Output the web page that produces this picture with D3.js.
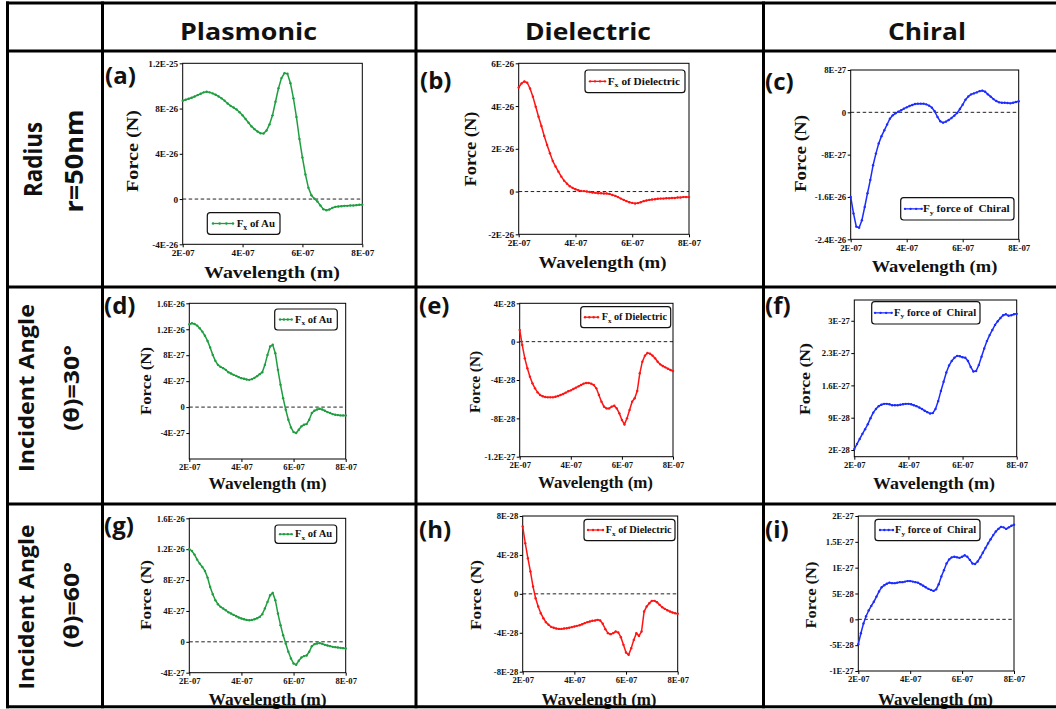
<!DOCTYPE html>
<html>
<head>
<meta charset="utf-8">
<script src="https://cdn.jsdelivr.net/npm/d3@7"></script>
<style>
  html, body { margin: 0; padding: 0; background: #fff; }
  svg { display: block; }
</style>
</head>
<body>
<script>
// ---------------- DATA ----------------
const wavelengthNm = [200,210,220,230,240,250,260,270,280,290,300,310,320,330,340,350,360,370,380,390,
  400,410,420,430,440,450,460,470,480,490,500,510,520,530,540,550,560,570,580,590,
  600,610,620,630,640,650,660,670,680,690,700,710,720,730,740,750,760,770,780,790,800];

const columnTitles = ["Plasmonic", "Dielectric", "Chiral"];
const rowTitlesTop = ["Radius", "Incident Angle", "Incident Angle"];
const rowTitlesBottom = ["r=50nm", "(\u03B8)=30\u00B0", "(\u03B8)=60\u00B0"];
const panelLetters = ["(a)","(b)","(c)","(d)","(e)","(f)","(g)","(h)","(i)"];

// (a) Fx of Au, radius r=50nm  [units of 1e-26 N]
const fxAuRadius = [8.69,8.78,8.87,8.96,9.07,9.19,9.31,9.43,9.49,9.43,
  9.34,9.22,9.07,8.9,8.69,8.45,8.24,8.09,7.91,7.67,
  7.4,7.07,6.75,6.42,6.18,5.97,5.82,5.79,6.06,6.6,
  7.4,8.6,9.79,10.69,11.13,11.07,10.24,8.9,7.25,5.31,
  3.67,2.18,0.99,0.33,0.03,-0.21,-0.57,-0.9,-0.99,-0.93,
  -0.78,-0.69,-0.66,-0.63,-0.6,-0.6,-0.57,-0.57,-0.54,-0.51,-0.51];
// (b) Fx of Dielectric, radius [1e-26 N]
const fxDielRadius = [4.87,5.06,5.15,5.09,4.82,4.44,3.97,3.5,3.07,2.6,
  2.18,1.79,1.43,1.17,0.93,0.7,0.51,0.37,0.25,0.17,
  0.11,0.06,0.03,0.02,0,-0.02,-0.05,-0.06,-0.08,-0.08,
  -0.09,-0.09,-0.11,-0.16,-0.2,-0.26,-0.33,-0.39,-0.45,-0.5,
  -0.53,-0.56,-0.54,-0.5,-0.45,-0.42,-0.39,-0.37,-0.36,-0.34,
  -0.33,-0.33,-0.31,-0.31,-0.3,-0.3,-0.28,-0.28,-0.26,-0.26,-0.26];
// (c) Fy force of Chiral, radius [1e-27 N]
const fyChiralRadius = [-16.0,-19.1,-21.6,-21.8,-20.4,-17.9,-15.3,-12.8,-10.0,-7.8,
  -5.9,-4.5,-3.4,-2.3,-1.2,-0.57,-0.19,0.13,0.38,0.69,
  0.94,1.19,1.38,1.57,1.64,1.64,1.64,1.51,1.26,0.88,
  0.19,-0.88,-1.7,-1.95,-1.76,-1.45,-1.07,-0.63,-0.13,0.63,
  1.45,2.39,3.0,3.4,3.58,3.77,4.0,4.1,3.9,3.4,
  2.96,2.5,2.14,1.89,1.82,1.82,1.76,1.7,1.82,1.95,2.08];
// (d) Fx of Au, angle 30 [1e-27 N]
const fxAuAngle30 = [12.77,12.92,12.82,12.56,12.15,11.64,11.0,10.2,9.18,8.05,
  7.13,6.51,6.2,6.0,5.74,5.38,5.18,4.97,4.82,4.62,
  4.46,4.36,4.26,4.2,4.31,4.51,4.77,5.08,5.38,6.51,
  8.05,9.33,9.6,8.3,5.74,3.44,1.38,-0.41,-1.95,-3.13,
  -3.85,-4.0,-3.49,-2.97,-2.72,-2.62,-1.95,-0.92,-0.56,-0.36,
  -0.26,-0.36,-0.56,-0.77,-0.92,-1.08,-1.18,-1.23,-1.28,-1.28,-1.28];
// (e) Fx of Dielectric, angle 30 [1e-28 N]
const fxDielAngle30 = [1.22,-0.35,-1.74,-2.78,-3.65,-4.35,-4.87,-5.29,-5.57,-5.7,
  -5.77,-5.81,-5.81,-5.81,-5.74,-5.67,-5.57,-5.46,-5.32,-5.18,
  -5.08,-4.94,-4.8,-4.66,-4.52,-4.38,-4.31,-4.31,-4.38,-4.52,
  -4.87,-5.57,-6.26,-6.78,-6.96,-6.96,-6.78,-6.68,-6.96,-7.48,
  -8.17,-8.63,-8.0,-7.13,-6.26,-5.91,-5.15,-3.3,-2.09,-1.46,
  -1.18,-1.25,-1.46,-1.74,-2.09,-2.37,-2.54,-2.68,-2.82,-2.96,-3.06];
// (f) Fy force of Chiral, angle 30 [1e-27 N]
const fyChiralAngle30 = [0.22,0.33,0.44,0.55,0.65,0.76,0.89,1.01,1.09,1.15,
  1.18,1.2,1.2,1.19,1.17,1.17,1.17,1.18,1.19,1.2,
  1.2,1.19,1.17,1.15,1.12,1.09,1.05,1.02,0.99,1.0,
  1.09,1.26,1.48,1.68,1.88,2.03,2.13,2.2,2.24,2.23,
  2.21,2.2,2.13,2.0,1.9,1.91,2.04,2.22,2.4,2.56,
  2.69,2.8,2.91,2.99,3.06,3.12,3.14,3.11,3.12,3.14,3.15];
// (g) Fx of Au, angle 60 [1e-27 N]
const fxAuAngle60 = [12.0,11.77,11.3,10.65,10.13,9.7,9.18,8.32,7.11,6.16,
  5.39,4.87,4.53,4.31,4.09,3.84,3.66,3.49,3.32,3.15,
  3.02,2.93,2.84,2.8,2.84,2.93,3.06,3.23,3.58,4.31,
  5.17,6.03,6.34,5.39,3.66,2.16,0.86,-0.22,-1.29,-2.16,
  -2.8,-2.97,-2.46,-2.03,-1.85,-1.77,-1.29,-0.56,-0.3,-0.22,
  -0.17,-0.26,-0.39,-0.47,-0.56,-0.65,-0.69,-0.73,-0.78,-0.82,-0.86];
// (h) Fx of Dielectric, angle 60 [1e-28 N]
const fxDielAngle60 = [6.92,5.2,3.66,2.29,0.75,-0.45,-1.3,-1.99,-2.5,-2.91,
  -3.18,-3.39,-3.49,-3.56,-3.6,-3.6,-3.56,-3.53,-3.49,-3.42,
  -3.36,-3.29,-3.22,-3.12,-3.01,-2.91,-2.84,-2.77,-2.74,-2.67,
  -2.74,-3.08,-3.63,-4.04,-4.14,-4.04,-3.87,-3.97,-4.45,-5.24,
  -6.03,-6.27,-5.58,-4.73,-4.04,-4.32,-3.87,-1.82,-1.3,-0.96,
  -0.72,-0.72,-0.86,-1.13,-1.37,-1.54,-1.68,-1.82,-1.92,-1.99,-2.05];
// (i) Fy force of Chiral, angle 60 [1e-27 N]
const fyChiralAngle60 = [-0.48,-0.27,-0.08,0.06,0.17,0.26,0.34,0.44,0.54,0.62,
  0.66,0.69,0.71,0.7,0.7,0.71,0.72,0.72,0.73,0.74,
  0.74,0.73,0.72,0.71,0.68,0.65,0.62,0.59,0.57,0.55,
  0.58,0.68,0.83,0.95,1.08,1.16,1.2,1.21,1.2,1.19,
  1.21,1.24,1.21,1.15,1.08,1.07,1.12,1.2,1.29,1.38,
  1.47,1.55,1.63,1.7,1.75,1.79,1.78,1.75,1.78,1.81,1.83];

const seriesUnits = [1e-26, 1e-26, 1e-27, 1e-27, 1e-28, 1e-27, 1e-27, 1e-28, 1e-27];

// tick values & labels
const xTickValues = [2e-7, 4e-7, 6e-7, 8e-7];
const xTickLabels = ["2E-07", "4E-07", "6E-07", "8E-07"];
const xDomain = [2e-7, 8e-7];

const yDomainA = [-4e-26, 1.2e-25];
const yTicksA = [-4e-26, 0, 4e-26, 8e-26, 1.2e-25];
const yLabelsA = ["-4E-26", "0", "4E-26", "8E-26", "1.2E-25"];
const yDomainB = [-2e-26, 6e-26];
const yTicksB = [-2e-26, 0, 2e-26, 4e-26, 6e-26];
const yLabelsB = ["-2E-26", "0", "2E-26", "4E-26", "6E-26"];
const yDomainC = [-2.4e-26, 8e-27];
const yTicksC = [-2.4e-26, -1.6e-26, -8e-27, 0, 8e-27];
const yLabelsC = ["-2.4E-26", "-1.6E-26", "-8E-27", "0", "8E-27"];
const yDomainD = [-8e-27, 1.6e-26];
const yTicksD = [-4e-27, 0, 4e-27, 8e-27, 1.2e-26, 1.6e-26];
const yLabelsD = ["-4E-27", "0", "4E-27", "8E-27", "1.2E-26", "1.6E-26"];
const yDomainE = [-1.2e-27, 4e-28];
const yTicksE = [-1.2e-27, -8e-28, -4e-28, 0, 4e-28];
const yLabelsE = ["-1.2E-27", "-8E-28", "-4E-28", "0", "4E-28"];
const yDomainF = [0.055e-27, 3.45e-27];
const yTicksF = [2e-28, 9e-28, 1.6e-27, 2.3e-27, 3e-27];
const yLabelsF = ["2E-28", "9E-28", "1.6E-27", "2.3E-27", "3E-27"];
const yDomainG = [-4e-27, 1.6e-26];
const yTicksG = [-4e-27, 0, 4e-27, 8e-27, 1.2e-26, 1.6e-26];
const yLabelsG = ["-4E-27", "0", "4E-27", "8E-27", "1.2E-26", "1.6E-26"];
const yDomainH = [-8e-28, 8e-28];
const yTicksH = [-8e-28, -4e-28, 0, 4e-28, 8e-28];
const yLabelsH = ["-8E-28", "-4E-28", "0", "4E-28", "8E-28"];
const yDomainI = [-1e-27, 2e-27];
const yTicksI = [-1e-27, -5e-28, 0, 5e-28, 1e-27, 1.5e-27, 2e-27];
const yLabelsI = ["-1E-27", "-5E-28", "0", "5E-28", "1E-27", "1.5E-27", "2E-27"];

const legendSub = ["x", "x", "y", "x", "x", "y", "x", "x", "y"];
const legendRest = [" of Au", " of Dielectric", " force of\u00A0 Chiral", " of Au", " of Dielectric",
  " force of\u00A0 Chiral", " of Au", " of Dielectric", " force of\u00A0 Chiral"];

// ---------------- STYLE / LAYOUT ----------------
const GREEN = "#1f9e40", RED = "#ff1414", BLUE = "#1c2cff";
const serif = "'Liberation Serif','Times New Roman',serif";
const sans = "'Open Sans','Noto Sans',sans-serif";

const panels = [
  { values: fxAuRadius, color: GREEN, yd: yDomainA, yt: yTicksA, yl: yLabelsA,
    rect: [182.7, 362.3, 63.3, 244.3], tick: 9.2,
    letter: [105, 84], force: [137.5, 151, 17, 82], wl: [272, 277.5, 17.5, 136],
    leg: [207.3, 280, 212.7, 234.3, 213, 233, 236.7, 275, 11] },
  { values: fxDielRadius, color: RED, yd: yDomainB, yt: yTicksB, yl: yLabelsB,
    rect: [518.7, 689, 63.3, 234.3], tick: 9.2,
    letter: [420, 89], force: [475.5, 149, 16, 75], wl: [602.5, 268, 17, 128],
    leg: [585, 685, 70, 92.7, 590, 605, 607.7, 680.7, 10] },
  { values: fyChiralRadius, color: BLUE, yd: yDomainC, yt: yTicksC, yl: yLabelsC,
    rect: [850.7, 1018.7, 70, 239.3], tick: 8.8,
    letter: [765, 90], force: [805.5, 153.5, 16, 77], wl: [934.5, 271.5, 17, 125.6],
    leg: [900.7, 1014, 197.7, 220, 905, 921.7, 923, 1010, 10] },
  { values: fxAuAngle30, color: GREEN, yd: yDomainD, yt: yTicksD, yl: yLabelsD,
    rect: [189.3, 345.7, 303.3, 459], tick: 8.6,
    letter: [104, 314], force: [150.5, 381, 15, 68], wl: [267.5, 489, 16, 118],
    leg: [274.7, 337.3, 309, 330, 280, 291.7, 295, 333, 9.5] },
  { values: fxDielAngle30, color: RED, yd: yDomainE, yt: yTicksE, yl: yLabelsE,
    rect: [519.7, 673, 303.3, 456.7], tick: 8.6,
    letter: [419, 314], force: [479.5, 382, 15, 62], wl: [595.5, 488.3, 16, 115],
    leg: [580.7, 670.7, 306.7, 327.7, 585, 598, 601.7, 667, 9.5] },
  { values: fyChiralAngle30, color: BLUE, yd: yDomainF, yt: yTicksF, yl: yLabelsF,
    rect: [854.3, 1016.7, 300, 456.7], tick: 8.6,
    letter: [765, 314], force: [809.5, 379, 15, 72], wl: [934, 489, 16, 122],
    leg: [871.7, 980, 301.7, 324, 875, 891.7, 894, 976.7, 9.5] },
  { values: fxAuAngle60, color: GREEN, yd: yDomainG, yt: yTicksG, yl: yLabelsG,
    rect: [189.3, 345.7, 518.3, 672.7], tick: 8.6,
    letter: [104, 534], force: [150.5, 595, 15, 70], wl: [267.5, 705, 16, 118],
    leg: [275, 336.7, 525, 543.3, 280, 291.7, 295, 333, 9.5] },
  { values: fxDielAngle60, color: RED, yd: yDomainH, yt: yTicksH, yl: yLabelsH,
    rect: [522.7, 677.7, 516, 671.7], tick: 8.6,
    letter: [419, 538], force: [480.5, 595, 15, 70], wl: [599, 705, 16, 115],
    leg: [584, 675, 519.3, 540.7, 588, 603, 605.7, 671.7, 9.5] },
  { values: fyChiralAngle60, color: BLUE, yd: yDomainI, yt: yTicksI, yl: yLabelsI,
    rect: [858.3, 1014, 516, 671], tick: 8.6,
    letter: [765, 538], force: [815.5, 595, 15, 67], wl: [935.5, 705, 16, 115],
    leg: [875, 980, 519.3, 540.7, 880, 893, 895, 976.7, 9.5] }
];

const W = 1056, H = 709;
const svg = d3.select("body").append("svg").attr("width", W).attr("height", H);
svg.append("rect").attr("width", W).attr("height", H).attr("fill", "#fff");

function fitGroup(g, x, y, targetW, anchor) {
  const bb = g.node().getBBox();
  const s = targetW / bb.width;
  const tx = anchor === "middle" ? x - (bb.x + bb.width / 2) * s : x - bb.x * s;
  g.attr("transform", `translate(${tx},${y}) scale(${s},1)`);
}

panels.forEach((p, i) => {
  const [l, r, t, b] = p.rect;
  const x = d3.scaleLinear().domain(xDomain).range([l, r]);
  const y = d3.scaleLinear().domain(p.yd).range([b, t]);
  const pts = wavelengthNm.map((w, k) => ({ x: w * 1e-9, y: p.values[k] * seriesUnits[i] }));
  const g = svg.append("g");

  // zero dashed line
  if (p.yd[0] < 0 && p.yd[1] > 0) {
    g.append("line").attr("x1", l).attr("x2", r).attr("y1", y(0)).attr("y2", y(0))
      .attr("stroke", "#222").attr("stroke-width", 1).attr("stroke-dasharray", "3.5,2.5");
  }

  // axes
  const xa = g.append("g").attr("transform", `translate(0,${b})`)
    .call(d3.axisBottom(x).tickValues(xTickValues).tickFormat((d, k) => xTickLabels[k]).tickSize(3).tickPadding(2));
  const ya = g.append("g").attr("transform", `translate(${l},0)`)
    .call(d3.axisLeft(y).tickValues(p.yt).tickFormat((d, k) => p.yl[k]).tickSize(3).tickPadding(1.5));
  [xa, ya].forEach(a => {
    a.select(".domain").remove();
    a.selectAll("line").attr("stroke", "#000").attr("stroke-width", 1);
    a.selectAll("text").attr("font-family", serif).attr("font-weight", 700)
      .attr("font-size", p.tick).attr("fill", "#111");
  });

  // frame
  g.append("rect").attr("x", l).attr("y", t).attr("width", r - l).attr("height", b - t)
    .attr("fill", "none").attr("stroke", "#000").attr("stroke-width", 1);

  // line + markers
  g.append("path").datum(pts)
    .attr("d", d3.line().x(d => x(d.x)).y(d => y(d.y)))
    .attr("fill", "none").attr("stroke", p.color).attr("stroke-width", 1.5);
  g.append("g").selectAll("circle").data(pts).join("circle")
    .attr("cx", d => x(d.x)).attr("cy", d => y(d.y)).attr("r", 1.2).attr("fill", p.color);

  // legend
  const [bx0, bx1, by0, by1, lx0, lx1, tx0, tx1, lfs] = p.leg;
  const cy = (by0 + by1) / 2;
  g.append("rect").attr("x", bx0).attr("y", by0).attr("width", bx1 - bx0).attr("height", by1 - by0)
    .attr("rx", 3).attr("fill", "#fff").attr("stroke", "#111").attr("stroke-width", 1.2);
  g.append("line").attr("x1", lx0).attr("x2", lx1).attr("y1", cy).attr("y2", cy)
    .attr("stroke", p.color).attr("stroke-width", 1.3);
  g.append("g").selectAll("circle").data([0, 1 / 3, 2 / 3, 1]).join("circle")
    .attr("cx", f => lx0 + f * (lx1 - lx0)).attr("cy", cy).attr("r", 1.2).attr("fill", p.color);
  const lg = g.append("g");
  const lt = lg.append("text").attr("font-family", serif).attr("font-weight", 700)
    .attr("font-size", lfs).attr("fill", "#111");
  lt.append("tspan").text("F");
  lt.append("tspan").attr("font-size", lfs * 0.7).attr("dy", lfs * 0.25).text(legendSub[i]);
  lt.append("tspan").attr("dy", -lfs * 0.25).text(legendRest[i]);
  fitGroup(lg, tx0, cy + lfs * 0.33, tx1 - tx0, "start");

  // axis titles
  const [fx, fy, ffs, flen] = p.force;
  g.append("text").attr("transform", `translate(${fx},${fy}) rotate(-90)`)
    .attr("text-anchor", "middle").attr("font-family", serif).attr("font-weight", 700)
    .attr("font-size", ffs).attr("textLength", flen).attr("lengthAdjust", "spacingAndGlyphs")
    .attr("fill", "#111").text("Force (N)");
  const [wx, wy, wfs, wlen] = p.wl;
  g.append("text").attr("x", wx).attr("y", wy)
    .attr("text-anchor", "middle").attr("font-family", serif).attr("font-weight", 700)
    .attr("font-size", wfs).attr("textLength", wlen).attr("lengthAdjust", "spacingAndGlyphs")
    .attr("fill", "#111").text("Wavelength (m)");

  // panel letter
  g.append("text").attr("x", p.letter[0]).attr("y", p.letter[1])
    .attr("font-family", sans).attr("font-weight", 700).attr("font-size", 24)
    .attr("fill", "#111").text(panelLetters[i]);
});

// column headers
const headerX = [248.5, 588, 927];
const headerLen = [137, 126, 78];
columnTitles.forEach((c, k) => {
  svg.append("text").attr("x", headerX[k]).attr("y", 39.5).attr("text-anchor", "middle")
    .attr("font-family", sans).attr("font-weight", 700).attr("font-size", 22.5)
    .attr("textLength", headerLen[k]).attr("lengthAdjust", "spacingAndGlyphs")
    .attr("fill", "#111").text(c);
});

// row titles (rotated)
const rowTop = [ [41.5, 159.5, 25, 75], [33.5, 388, 20.5, 168], [33.5, 607, 20.5, 165] ];
const rowBot = [ [83, 161, 25, 103], [79, 388, 21, 86], [79, 605, 21, 86] ];
[0, 1, 2].forEach(k => {
  [[rowTitlesTop[k], rowTop[k]], [rowTitlesBottom[k], rowBot[k]]].forEach(([txt, s]) => {
    svg.append("text").attr("transform", `translate(${s[0]},${s[1]}) rotate(-90)`)
      .attr("text-anchor", "middle").attr("font-family", sans).attr("font-weight", 700)
      .attr("font-size", s[2]).attr("textLength", s[3]).attr("lengthAdjust", "spacingAndGlyphs")
      .attr("fill", "#111").text(txt);
  });
});

// table grid
const gridV = [7.5, 102.5, 416, 763.5];
const gridH = [3, 51, 287, 504, 706.7];
const grid = svg.append("g").attr("stroke", "#000").attr("stroke-width", 3);
gridV.forEach(v => grid.append("line").attr("x1", v).attr("x2", v).attr("y1", gridH[0] - 1.5).attr("y2", gridH[4] + 1.5));
gridH.forEach(h => grid.append("line").attr("x1", gridV[0] - 1.5).attr("x2", W).attr("y1", h).attr("y2", h));
</script>
</body>
</html>
